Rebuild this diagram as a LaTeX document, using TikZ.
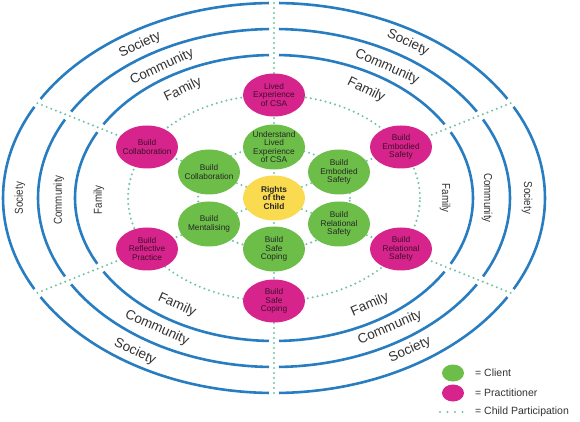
\documentclass[tikz,border=0pt]{standalone}
\usepackage{fontspec}
\setmainfont{Liberation Sans}
\usetikzlibrary{shapes.geometric,backgrounds}
\definecolor{ringblue}{RGB}{40,125,193}
\definecolor{dotc}{RGB}{115,195,165}
\definecolor{cgreen}{RGB}{108,190,72}
\definecolor{cmag}{RGB}{214,36,140}
\definecolor{cyel}{RGB}{250,218,78}
\definecolor{txt}{RGB}{50,50,50}
\definecolor{magtxt}{RGB}{60,15,40}
\begin{document}
\begin{tikzpicture}[x=1pt,y=1pt,
  ring/.style={draw=ringblue,line width=2.6pt},
  dotline/.style={draw=dotc,line width=2.3pt,line cap=round,dash pattern=on 0pt off 5pt},
  bubble/.style={ellipse,inner xsep=-5pt,inner ysep=-2pt,minimum width=62pt,minimum height=45pt,align=center,font=\fontsize{8.3}{8.3}\selectfont},
  client/.style={bubble,fill=cgreen,text=black!85},
  pract/.style={bubble,fill=cmag,minimum height=43pt,text=magtxt},
  core/.style={bubble,fill=cyel,text=black!85,font=\fontsize{8.3}{8.3}\selectfont\bfseries},
  ringlab/.style={text=txt,font=\fontsize{13.5}{13.5}\selectfont,inner sep=0pt},
  sidelab/.style={text=txt,font=\fontsize{11.5}{11.5}\selectfont,inner sep=0pt},
  legtext/.style={text=txt,font=\fontsize{10.5}{10.5}\selectfont,anchor=west,inner sep=0pt},
  legdot/.style={ellipse,minimum width=22pt,minimum height=17pt,inner sep=0pt},
]
\useasboundingbox (-274,-224) rectangle (306,198);

% core and client nodes
\node[core] (rc) at (0,0) {Rights\\of the\\Child};
\node[client] (gT) at (0,51) {Understand\\Lived\\Experience\\of CSA};
\node[client] (gUL) at (-65,26) {Build\\Collaboration};
\node[client] (gUR) at (65,26) {Build\\Embodied\\Safety};
\node[client] (gLL) at (-65,-26) {Build\\Mentalising};
\node[client] (gLR) at (65,-26) {Build\\Relational\\Safety};
\node[client] (gB) at (0,-51) {Build\\Safe\\Coping};

% practitioner nodes
\node[pract] (mT) at (0,103) {Lived\\Experience\\of CSA};
\node[pract] (mUL) at (-127,51) {Build\\Collaboration};
\node[pract] (mUR) at (127,51) {Build\\Embodied\\Safety};
\node[pract] (mLL) at (-127,-51) {Build\\Reflective\\Practice};
\node[pract] (mLR) at (127,-51) {Build\\Relational\\Safety};
\node[pract] (mB) at (0,-103) {Build\\Safe\\Coping};

% outer ends of the radial participation lines
\coordinate (oT) at (0,195);
\coordinate (oB) at (0,-195);
\coordinate (oUL) at (-237,95);
\coordinate (oUR) at (237,95);
\coordinate (oLL) at (-237,-95);
\coordinate (oLR) at (237,-95);

% ring labels
\node[ringlab,rotate=25] (sTL) at (-134,153) {Society};
\node[ringlab,rotate=25] (cTL) at (-112,131) {Community};
\node[ringlab,rotate=26] (fTL) at (-91,108) {Family};
\node[ringlab,rotate=-25] (sTR) at (134,155) {Society};
\node[ringlab,rotate=-24] (cTR) at (113,131) {Community};
\node[ringlab,rotate=-26] (fTR) at (92,108) {Family};
\node[ringlab,rotate=-25] (sBL) at (-139,-154) {Society};
\node[ringlab,rotate=-24] (cBL) at (-117,-130) {Community};
\node[ringlab,rotate=-24] (fBL) at (-97,-107) {Family};
\node[ringlab,rotate=24] (sBR) at (136,-152) {Society};
\node[ringlab,rotate=23.5] (cBR) at (116,-130) {Community};
\node[ringlab,rotate=23.5] (fBR) at (96,-107) {Family};
\node[sidelab,rotate=90] (sL) at (-254,0) {\scalebox{0.85}[1]{Society}};
\node[sidelab,rotate=90] (cL) at (-215,-2) {\scalebox{0.85}[1]{Community}};
\node[sidelab,rotate=90] (fL) at (-175,-2) {\scalebox{0.85}[1]{Family}};
\node[sidelab,rotate=-90] (sR) at (253,0) {\scalebox{0.85}[1]{Society}};
\node[sidelab,rotate=-90] (cR) at (213,0) {\scalebox{0.85}[1]{Community}};
\node[sidelab,rotate=-90] (fR) at (171,0) {\scalebox{0.85}[1]{Family}};

% legend
\node[legdot,fill=cgreen] (lg) at (179,-175) {};
\node[legtext] (lgt) at (201,-175) {= Client};
\node[legdot,fill=cmag] (lm) at (179,-195) {};
\node[legtext] (lmt) at (201,-195) {= Practitioner};
\coordinate (ld1) at (166,-214);
\coordinate (ld2) at (189,-214);
\draw[dotline,dash pattern=on 0pt off 7.5pt] (ld1) -- (ld2);
\node[legtext] (ldt) at (201,-214) {= Child Participation};

\begin{scope}[on background layer]
  % blue rings with gaps at the radial lines
  \foreach \rx/\ry/\ga/\gb in {271/195/1.33/1.06, 236/169/1.53/1.21, 199/143/1.81/1.44}{
    \foreach \a/\b in {{29.2+\ga}/{90-\gb}, {90+\gb}/{150.8-\ga}, {150.8+\ga}/{209.2-\ga},
                       {209.2+\ga}/{270-\gb}, {270+\gb}/{330.8-\ga}, {330.8+\ga}/{389.2-\ga}}{
      \draw[ring] ({\rx*cos(\a)},{\ry*sin(\a)}) arc[start angle=\a, end angle=\b, x radius=\rx, y radius=\ry];
    }
  }
  % participation rings
  \draw[dotline] (rc.center) ellipse [x radius=76, y radius=51];
  \draw[dotline] (rc.center) ellipse [x radius=146, y radius=103];
  % radial participation lines
  \draw[dotline] (rc.center) -- (gT.center) -- (mT.center) -- (oT);
  \draw[dotline] (rc.center) -- (gB.center) -- (mB.center) -- (oB);
  \draw[dotline] (rc.center) -- (gUL.center) -- (mUL.center) -- (oUL);
  \draw[dotline] (rc.center) -- (gUR.center) -- (mUR.center) -- (oUR);
  \draw[dotline] (rc.center) -- (gLL.center) -- (mLL.center) -- (oLL);
  \draw[dotline] (rc.center) -- (gLR.center) -- (mLR.center) -- (oLR);
\end{scope}
\end{tikzpicture}
\end{document}
